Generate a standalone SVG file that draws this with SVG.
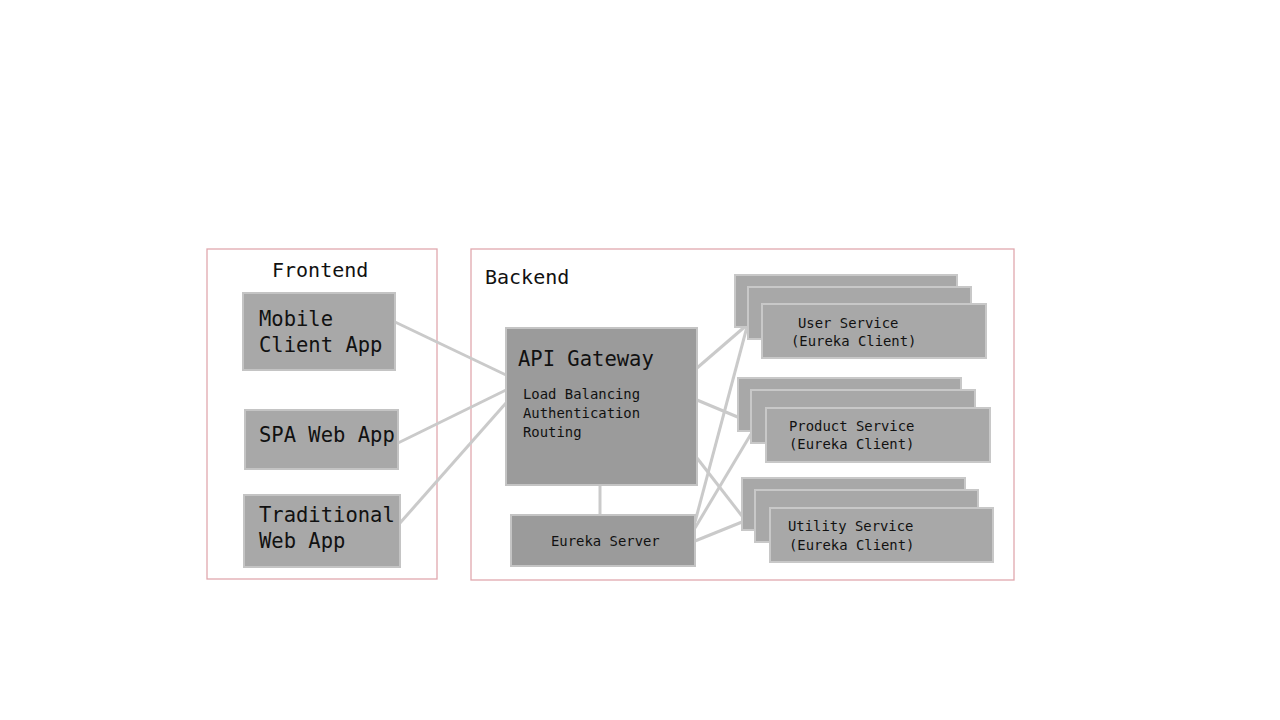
<svg xmlns="http://www.w3.org/2000/svg" width="1280" height="720" viewBox="0 0 1280 720">
<style>
.frame{fill:none;stroke:#e0a8ae;stroke-width:1.3}
.n{fill:#a8a8a8;stroke:#c4c4c4;stroke-width:2}
.d{fill:#9b9b9b;stroke:#c4c4c4;stroke-width:2}
.s{fill:#a8a8a8;stroke:#c8c8c8;stroke-width:2}
text{font-family:"DejaVu Sans Mono","Liberation Mono",monospace;fill:#111}
.big{font-size:20.5px}
.sm{font-size:13.9px}
.c line{stroke:#cacaca;stroke-width:3}
</style>
<rect width="1280" height="720" fill="#fff"/>
<g id="frontend"><rect class="frame" x="207" y="249" width="230" height="330"/><text x="272" y="277" font-size="20">Frontend</text></g>
<g id="backend"><rect class="frame" x="471" y="249" width="543" height="331"/><text x="485" y="284" font-size="20">Backend</text></g>
<g class="c" id="connectors">
<line x1="395" y1="322" x2="506" y2="375"/>
<line x1="398" y1="443" x2="506" y2="390"/>
<line x1="400" y1="523" x2="506" y2="403"/>
<line x1="697" y1="368" x2="748" y2="324"/>
<line x1="697" y1="400" x2="740" y2="418"/>
<line x1="697" y1="458" x2="742" y2="516"/>
<line x1="695" y1="522" x2="748" y2="323"/>
<line x1="695" y1="528" x2="751" y2="434"/>
<line x1="695" y1="541" x2="742" y2="522"/>
<line x1="600" y1="485" x2="600" y2="515"/>
</g>
<g id="mobile"><rect class="n" x="243" y="293" width="152" height="77"/><text class="big" x="259" y="326">Mobile</text><text class="big" x="259" y="352">Client App</text></g>
<g id="spa"><rect class="n" x="245" y="410" width="153" height="59"/><text class="big" x="259" y="442">SPA Web App</text></g>
<g id="traditional"><rect class="n" x="244" y="495" width="156" height="72"/><text class="big" x="259" y="522">Traditional</text><text class="big" x="259" y="548">Web App</text></g>
<g id="gateway"><rect class="d" x="506" y="328" width="191" height="157"/><text class="big" x="518" y="366">API Gateway</text><text class="sm" x="523" y="399">Load Balancing</text><text class="sm" x="523" y="418">Authentication</text><text class="sm" x="523" y="437">Routing</text></g>
<g id="eureka"><rect class="d" x="511" y="515" width="184" height="51"/><text class="sm" x="551" y="546">Eureka Server</text></g>
<g id="user">
<rect class="s" x="735" y="275" width="222" height="52"/><rect class="s" x="748" y="287" width="223" height="52"/><rect class="s" x="762" y="304" width="224" height="54"/>
<text class="sm" x="798" y="328">User Service</text><text class="sm" x="791" y="346">(Eureka Client)</text></g>
<g id="product">
<rect class="s" x="738" y="378" width="223" height="53"/><rect class="s" x="751" y="390" width="224" height="53"/><rect class="s" x="766" y="408" width="224" height="54"/>
<text class="sm" x="789" y="431">Product Service</text><text class="sm" x="789" y="449">(Eureka Client)</text></g>
<g id="utility">
<rect class="s" x="742" y="478" width="223" height="52"/><rect class="s" x="755" y="490" width="223" height="52"/><rect class="s" x="770" y="508" width="223" height="54"/>
<text class="sm" x="788" y="531">Utility Service</text><text class="sm" x="789" y="550">(Eureka Client)</text></g>
</svg>
